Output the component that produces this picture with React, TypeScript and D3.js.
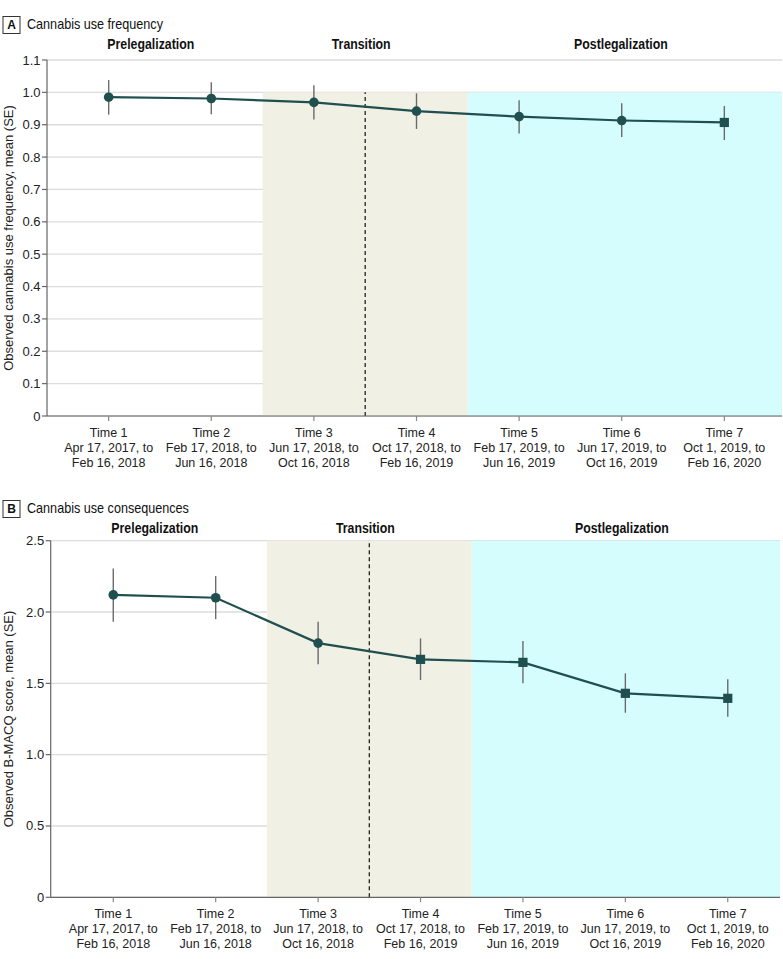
import React from "react";
import * as d3 from "d3";

const timeLabels = ["Time 1", "Time 2", "Time 3", "Time 4", "Time 5", "Time 6", "Time 7"];
const dateLine1 = ["Apr 17, 2017, to", "Feb 17, 2018, to", "Jun 17, 2018, to", "Oct 17, 2018, to", "Feb 17, 2019, to", "Jun 17, 2019, to", "Oct 1, 2019, to"];
const dateLine2 = ["Feb 16, 2018", "Jun 16, 2018", "Oct 16, 2018", "Feb 16, 2019", "Jun 16, 2019", "Oct 16, 2019", "Feb 16, 2020"];
const phases = ["Prelegalization", "Transition", "Postlegalization"];

const freqMean = [0.985, 0.981, 0.969, 0.942, 0.925, 0.913, 0.907];
const freqLow = [0.931, 0.932, 0.916, 0.887, 0.873, 0.862, 0.853];
const freqHigh = [1.038, 1.031, 1.022, 0.997, 0.976, 0.966, 0.958];
const freqMarker = ["circle", "circle", "circle", "circle", "circle", "circle", "square"];
const freqTicks = [0, 0.1, 0.2, 0.3, 0.4, 0.5, 0.6, 0.7, 0.8, 0.9, 1.0, 1.1];
const freqTickLabels = ["0", "0.1", "0.2", "0.3", "0.4", "0.5", "0.6", "0.7", "0.8", "0.9", "1.0", "1.1"];

const consMean = [2.12, 2.1, 1.782, 1.668, 1.647, 1.43, 1.395];
const consLow = [1.931, 1.95, 1.633, 1.523, 1.5, 1.294, 1.266];
const consHigh = [2.305, 2.252, 1.931, 1.815, 1.796, 1.57, 1.528];
const consMarker = ["circle", "circle", "circle", "square", "square", "square", "square"];
const consTicks = [0, 0.5, 1.0, 1.5, 2.0, 2.5];
const consTickLabels = ["0", "0.5", "1.0", "1.5", "2.0", "2.5"];

const FONT = "'Liberation Sans', Arial, sans-serif";
const MARK = "#1f4f4f";
const ERR = "#6b6b6b";
const TRANS_FILL = "#f0f0e5";
const POST_FILL = "#d5fdfd";
const NARROW = 0.87;

type PanelProps = {
  letter: string;
  title: string;
  yLabel: string;
  mean: number[];
  low: number[];
  high: number[];
  markers: string[];
  ticks: number[];
  tickLabels: string[];
  yMax: number;
  shadeTop: number;
  left: number;
  right: number;
  top: number;
  bottom: number;
  xDomain: [number, number];
  titleY: number;
  headerY: number;
};

function Panel(p: PanelProps) {
  const x = d3.scaleLinear().domain(p.xDomain).range([p.left, p.right]);
  const y = d3.scaleLinear().domain([0, p.yMax]).range([p.bottom, p.top]);
  const idx = p.mean.map((_, i) => i + 1);
  const line = d3
    .line<number>()
    .x((i) => x(i))
    .y((i) => y(p.mean[i - 1]));
  const bounds = [p.xDomain[0], 2.5, 4.5, p.xDomain[1]];
  const midY = (p.top + p.bottom) / 2;
  return (
    <g>
      <rect x={3} y={p.titleY - 12.5} width={17} height={17} fill="white" stroke="#333" strokeWidth={1} />
      <text x={11.5} y={p.titleY} textAnchor="middle" fontFamily={FONT} fontWeight="bold" fontSize={12} fill="#111">
        {p.letter}
      </text>
      <text transform={`translate(27,${p.titleY}) scale(${NARROW},1)`} fontFamily={FONT} fontSize={14.5} fill="#111">
        {p.title}
      </text>
      {phases.map((ph, k) => (
        <text
          key={ph}
          transform={`translate(${(x(bounds[k]) + x(bounds[k + 1])) / 2 - 4},${p.headerY}) scale(0.85,1)`}
          textAnchor="middle"
          fontFamily={FONT}
          fontWeight="bold"
          fontSize={14.5}
          fill="#111"
        >
          {ph}
        </text>
      ))}
      {p.ticks.map((t) => (
        <line key={"g" + t} x1={p.left} x2={p.right} y1={y(t)} y2={y(t)} stroke="#dcdcdc" strokeWidth={1.3} />
      ))}
      <rect x={x(2.5)} y={y(p.shadeTop)} width={x(4.5) - x(2.5)} height={y(0) - y(p.shadeTop)} fill={TRANS_FILL} />
      <rect x={x(4.5)} y={y(p.shadeTop)} width={x(p.xDomain[1]) - x(4.5)} height={y(0) - y(p.shadeTop)} fill={POST_FILL} />
      <line x1={x(3.5)} x2={x(3.5)} y1={y(0)} y2={y(p.shadeTop)} stroke="#222" strokeWidth={1.3} strokeDasharray="4,3" />
      <line x1={p.left} x2={p.left} y1={p.top} y2={p.bottom} stroke="#666" strokeWidth={1.2} />
      <line x1={p.left} x2={p.right} y1={p.bottom} y2={p.bottom} stroke="#666" strokeWidth={1.2} />
      {p.ticks.map((t, k) => (
        <g key={"t" + t}>
          <line x1={p.left - 5} x2={p.left} y1={y(t)} y2={y(t)} stroke="#666" strokeWidth={1.2} />
          <text x={p.left - 6.5} y={y(t) + 4.5} textAnchor="end" fontFamily={FONT} fontSize={13} fill="#222">
            {p.tickLabels[k]}
          </text>
        </g>
      ))}
      {idx.map((i) => (
        <g key={"x" + i}>
          <line x1={x(i)} x2={x(i)} y1={p.bottom} y2={p.bottom + 5} stroke="#888" strokeWidth={1.2} />
          <text x={x(i)} textAnchor="middle" fontFamily={FONT} fontSize={12.5} fill="#222">
            <tspan x={x(i)} y={p.bottom + 20.5}>{timeLabels[i - 1]}</tspan>
            <tspan x={x(i)} y={p.bottom + 35.7}>{dateLine1[i - 1]}</tspan>
            <tspan x={x(i)} y={p.bottom + 50.7}>{dateLine2[i - 1]}</tspan>
          </text>
        </g>
      ))}
      <text
        transform={`translate(${12.5},${midY}) rotate(-90)`}
        textAnchor="middle"
        fontFamily={FONT}
        fontSize={13}
        fill="#222"
      >
        {p.yLabel}
      </text>
      {idx.map((i) => (
        <line key={"e" + i} x1={x(i)} x2={x(i)} y1={y(p.low[i - 1])} y2={y(p.high[i - 1])} stroke={ERR} strokeWidth={1.4} />
      ))}
      <path d={line(idx) || ""} fill="none" stroke={MARK} strokeWidth={2.2} />
      {idx.map((i) =>
        p.markers[i - 1] === "circle" ? (
          <circle key={"m" + i} cx={x(i)} cy={y(p.mean[i - 1])} r={4.8} fill={MARK} />
        ) : (
          <rect key={"m" + i} x={x(i) - 4.6} y={y(p.mean[i - 1]) - 4.6} width={9.2} height={9.2} fill={MARK} />
        )
      )}
    </g>
  );
}

export default function App() {
  return (
    <svg width={783} height={959} style={{ position: "absolute", left: 0, top: 0, display: "block" }}>
      <rect width={783} height={959} fill="white" />
      <Panel
        letter="A"
        title="Cannabis use frequency"
        yLabel="Observed cannabis use frequency, mean (SE)"
        mean={freqMean}
        low={freqLow}
        high={freqHigh}
        markers={freqMarker}
        ticks={freqTicks}
        tickLabels={freqTickLabels}
        yMax={1.1}
        shadeTop={1.0}
        left={47}
        right={782}
        top={60}
        bottom={416}
        xDomain={[0.399, 7.562]}
        titleY={29}
        headerY={49}
      />
      <Panel
        letter="B"
        title="Cannabis use consequences"
        yLabel="Observed B-MACQ score, mean (SE)"
        mean={consMean}
        low={consLow}
        high={consHigh}
        markers={consMarker}
        ticks={consTicks}
        tickLabels={consTickLabels}
        yMax={2.5}
        shadeTop={2.5}
        left={50.7}
        right={780}
        top={540.7}
        bottom={897.3}
        xDomain={[0.389, 7.51]}
        titleY={513}
        headerY={533}
      />
    </svg>
  );
}
